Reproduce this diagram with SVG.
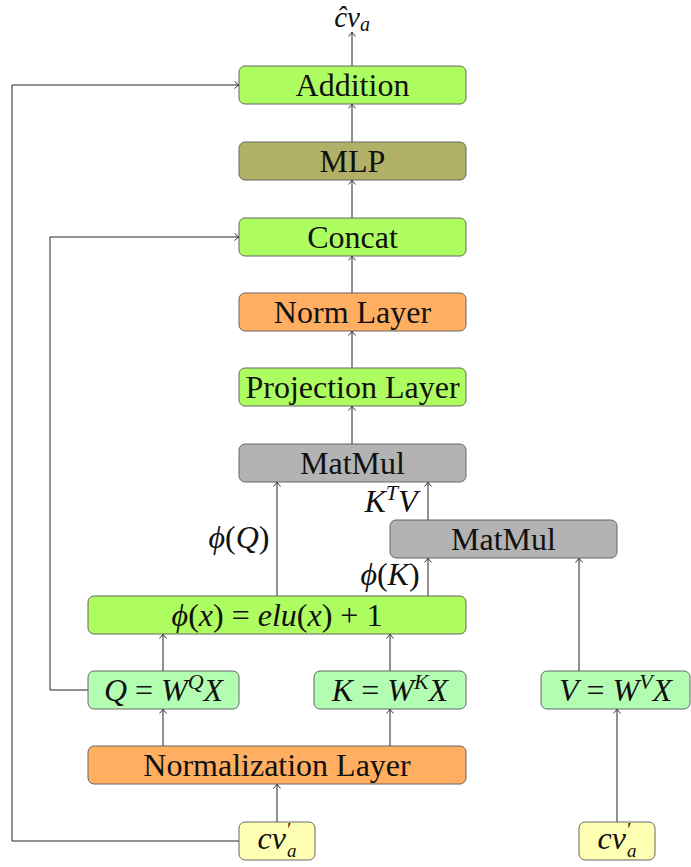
<svg xmlns="http://www.w3.org/2000/svg" width="691" height="867" viewBox="0 0 691 867">
<defs>
<style>
.box{stroke:#666;stroke-width:1}
.lime{fill:#adfc60}
.olive{fill:#b0b066}
.orange{fill:#ffae62}
.gray{fill:#b3b3b3}
.lg{fill:#b3fdb3}
.yel{fill:#ffffb3}
.t{font-family:'Liberation Serif','DejaVu Serif',serif;font-size:32px;fill:#111}
.c{text-anchor:middle}
.i{font-style:italic}
.conn path{fill:none;stroke:#222;stroke-width:1}
</style>
<marker id="arr" viewBox="-6 -6 12 12" markerWidth="12" markerHeight="12" refX="0" refY="0" orient="auto" markerUnits="userSpaceOnUse">
<path d="M-4.5,-3.5 Q-1.5,-0.8 0,0 Q-1.5,0.8 -4.5,3.5" fill="none" stroke="#222" stroke-width="0.9"/>
</marker>
</defs>
<rect width="691" height="867" fill="#fff"/>
<g class="conn">
<path d="M277,822 V784" marker-end="url(#arr)"/>
<path d="M239,841 H12 V85 H239" marker-end="url(#arr)"/>
<path d="M163,746 V709" marker-end="url(#arr)"/>
<path d="M390,746 V709" marker-end="url(#arr)"/>
<path d="M617,822 V709" marker-end="url(#arr)"/>
<path d="M163,671 V634" marker-end="url(#arr)"/>
<path d="M390,671 V634" marker-end="url(#arr)"/>
<path d="M88,690 H50 V237 H239" marker-end="url(#arr)"/>
<path d="M579,671 V558" marker-end="url(#arr)"/>
<path d="M277,596 V482" marker-end="url(#arr)"/>
<path d="M428,596 V558" marker-end="url(#arr)"/>
<path d="M428,520 V482" marker-end="url(#arr)"/>
<path d="M352,444 V406" marker-end="url(#arr)"/>
<path d="M352,368 V331" marker-end="url(#arr)"/>
<path d="M352,293 V256" marker-end="url(#arr)"/>
<path d="M352,218 V180" marker-end="url(#arr)"/>
<path d="M352,142 V104" marker-end="url(#arr)"/>
<path d="M352,66 V32" marker-end="url(#arr)"/>
<text x="239" y="548" class="t c i">ϕ<tspan font-style="normal">(</tspan>Q<tspan font-style="normal">)</tspan></text>
<text x="390" y="585" class="t c i">ϕ<tspan font-style="normal">(</tspan>K<tspan font-style="normal">)</tspan></text>
<text x="391" y="512" class="t c i">K<tspan font-size="22" dy="-12">T</tspan><tspan dy="12">V</tspan></text>
</g>
<g id="output">
<text x="352" y="27" class="t c i" font-size="29" style="font-size:29px">ĉv<tspan font-size="20" dy="4">a</tspan></text>
</g>
<g id="addition"><rect class="box lime" x="239" y="66" width="227" height="38" rx="6"/><text x="352.5" y="96" class="t c">Addition</text></g>
<g id="mlp"><rect class="box olive" x="239" y="142" width="227" height="38" rx="6"/><text x="352.5" y="172" class="t c">MLP</text></g>
<g id="concat"><rect class="box lime" x="239" y="218" width="227" height="38" rx="6"/><text x="352.5" y="248" class="t c">Concat</text></g>
<g id="normlayer"><rect class="box orange" x="239" y="293" width="227" height="38" rx="6"/><text x="352.5" y="323" class="t c">Norm Layer</text></g>
<g id="projection"><rect class="box lime" x="239" y="368" width="227" height="38" rx="6"/><text x="352.5" y="398" class="t c">Projection Layer</text></g>
<g id="matmul1"><rect class="box gray" x="239" y="444" width="227" height="38" rx="6"/><text x="352.5" y="474" class="t c">MatMul</text></g>
<g id="matmul2"><rect class="box gray" x="390" y="520" width="227" height="38" rx="6"/><text x="503.5" y="550" class="t c">MatMul</text></g>
<g id="elu"><rect class="box lime" x="88" y="596" width="378" height="38" rx="6"/><text x="277" y="626" class="t c"><tspan class="i">ϕ</tspan>(<tspan class="i">x</tspan>) = <tspan class="i">elu</tspan>(<tspan class="i">x</tspan>) + 1</text></g>
<g id="q"><rect class="box lg" x="88" y="671" width="151" height="38" rx="6"/><text x="163.5" y="701" class="t c"><tspan class="i">Q</tspan> = <tspan class="i">W</tspan><tspan class="i" font-size="22" dy="-12">Q</tspan><tspan class="i" dy="12">X</tspan></text></g>
<g id="k"><rect class="box lg" x="314" y="671" width="152" height="38" rx="6"/><text x="390" y="701" class="t c"><tspan class="i">K</tspan> = <tspan class="i">W</tspan><tspan class="i" font-size="22" dy="-12">K</tspan><tspan class="i" dy="12">X</tspan></text></g>
<g id="v"><rect class="box lg" x="541" y="671" width="149" height="38" rx="6"/><text x="615.5" y="701" class="t c"><tspan class="i">V</tspan> = <tspan class="i">W</tspan><tspan class="i" font-size="22" dy="-12">V</tspan><tspan class="i" dy="12">X</tspan></text></g>
<g id="normalization"><rect class="box orange" x="88" y="746" width="378" height="38" rx="6"/><text x="277" y="776" class="t c">Normalization Layer</text></g>
<g id="cv1"><rect class="box yel" x="239" y="822" width="76" height="38" rx="6"/><text x="277" y="849" class="t c i">cv<tspan font-size="19" dy="-13">′</tspan><tspan font-size="19" dx="-3" dy="21">a</tspan></text></g>
<g id="cv2"><rect class="box yel" x="579" y="822" width="76" height="38" rx="6"/><text x="617" y="849" class="t c i">cv<tspan font-size="19" dy="-13">′</tspan><tspan font-size="19" dx="-3" dy="21">a</tspan></text></g>
</svg>
